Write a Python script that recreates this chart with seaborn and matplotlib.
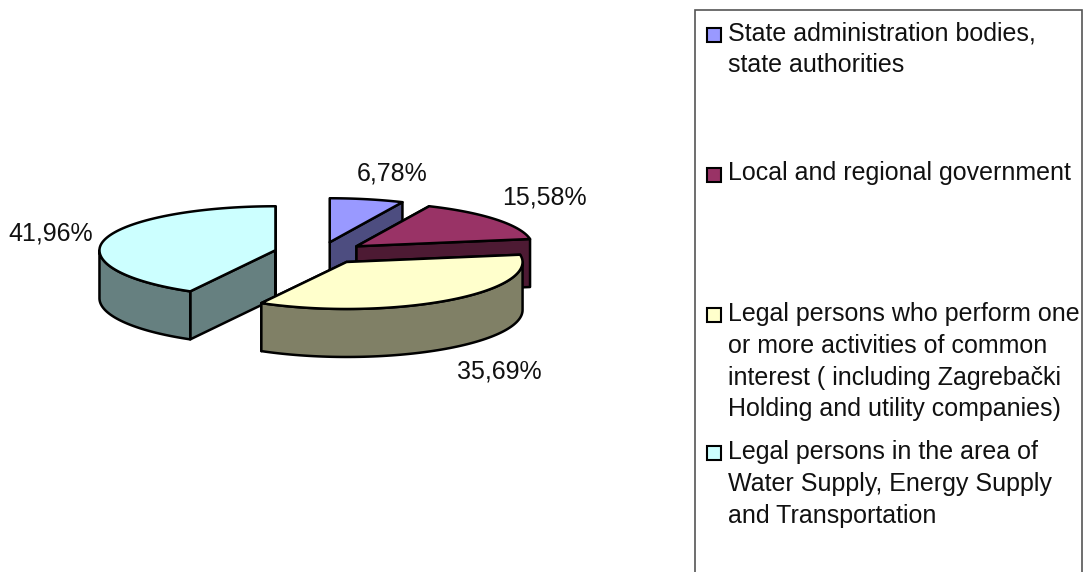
import numpy as np
import matplotlib
matplotlib.use("Agg")
import matplotlib.pyplot as plt
from matplotlib.patches import Polygon, Rectangle
import seaborn as sns

categories = [
    "State administration bodies,\nstate authorities",
    "Local and regional government",
    "Legal persons who perform one\nor more activities of common\ninterest ( including Zagrebački\nHolding and utility companies)",
    "Legal persons in the area of\nWater Supply, Energy Supply\nand Transportation",
]
values = [6.78, 15.58, 35.69, 41.96]
labels = ["6,78%", "15,58%", "35,69%", "41,96%"]
colors = ["#9999FF", "#993366", "#FFFFCC", "#CCFFFF"]

# layout (pixels)
label_xy = [(392, 173), (544, 197), (499, 372), (51, 234)]
legend_key_y = [34.5, 175, 315, 453]
legend_text_y = [21, 161, 302, 440]
CX, CY, A, B_BACK, B_FRONT, EXA, EXB, DEPTH = 320, 253, 176, 44, 47, 46, 11, 48
FONT = 18

sns.set_theme(style="white")
plt.rcParams["font.family"] = ["Liberation Sans", "DejaVu Sans"]

fig = plt.figure(figsize=(10.83, 5.72), dpi=100)
ax = fig.add_axes([0, 0, 1, 1])
ax.set_xlim(0, 1083)
ax.set_ylim(572, 0)
ax.axis("off")


def dark(c):
    return tuple(v * 0.5 for v in matplotlib.colors.to_rgb(c))


def pt(cx, cy, t):
    c = np.cos(t)
    return np.array([cx + A * np.sin(t), cy - (B_BACK if c > 0 else B_FRONT) * c])


def draw(poly, face, z):
    ax.add_patch(Polygon(poly, closed=True, facecolor=face, edgecolor="black",
                         linewidth=1.8, joinstyle="round", zorder=z))


fr = np.cumsum([0] + values) / sum(values) * 2 * np.pi
down = np.array([0, DEPTH])
order = [3, 0, 1, 2]
for k, i in enumerate(order):
    t1, t2 = fr[i], fr[i + 1]
    mid = (t1 + t2) / 2
    cx = CX + EXA * np.sin(mid)
    cy = CY - EXB * np.cos(mid)
    apex = np.array([cx, cy])
    z = 2 + k * 5
    for j, t in enumerate((t1, t2)):
        e = pt(cx, cy, t)
        draw([apex, e, e + down, apex + down], dark(colors[i]), z + j)
    lo, hi = max(t1, np.pi / 2), min(t2, 3 * np.pi / 2)
    if hi > lo:
        ts = np.linspace(lo, hi, 80)
        arc = np.array([pt(cx, cy, t) for t in ts])
        draw(np.vstack([arc, arc[::-1] + down]), dark(colors[i]), z + 2)
    ts = np.linspace(t1, t2, 120)
    arc = np.array([pt(cx, cy, t) for t in ts])
    draw(np.vstack([apex, arc]), colors[i], z + 3)

for lab, (x, y) in zip(labels, label_xy):
    ax.text(x, y, lab, ha="center", va="center", fontsize=FONT, color="#111111", zorder=50)

ax.add_patch(Rectangle((695, 9.5), 387, 600, facecolor="white", edgecolor="#555555",
                       linewidth=1.2, clip_on=True, zorder=1))
for cat, c, ky, ty in zip(categories, colors, legend_key_y, legend_text_y):
    ax.add_patch(Rectangle((706.5, ky - 7), 14, 14, facecolor=c, edgecolor="black",
                           linewidth=1.5, zorder=40))
    ax.text(728, ty, cat, ha="left", va="top", fontsize=FONT, color="#111111",
            linespacing=1.41, zorder=50)

fig.savefig("out.png", dpi=100)
